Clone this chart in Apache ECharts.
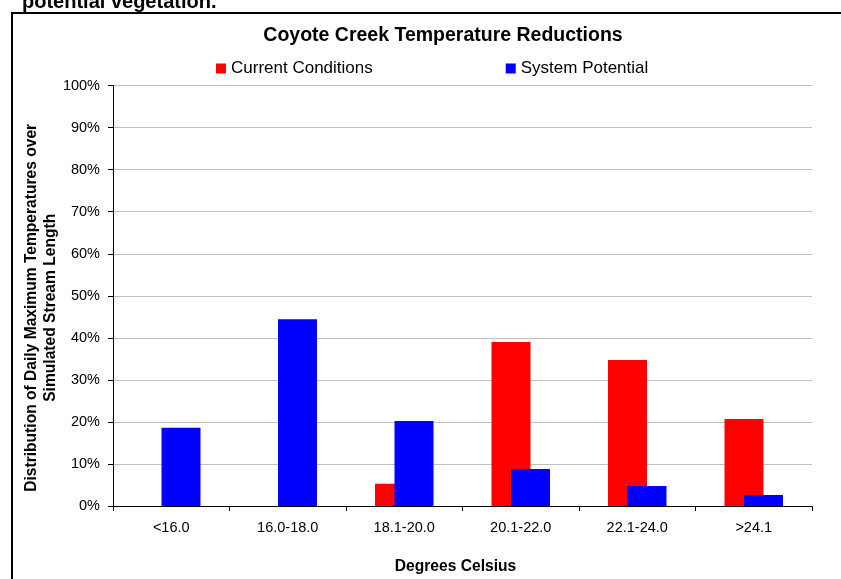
<!DOCTYPE html>
<html>
<head>
<meta charset="utf-8">
<script src="https://cdn.jsdelivr.net/npm/echarts@6/dist/echarts.min.js"></script>
<style>
  html, body { margin: 0; padding: 0; background: #fff; }
  #chart { width: 841px; height: 579px; }
</style>
</head>
<body>
<div id="chart"></div>
<script>
const categories = ['<16.0', '16.0-18.0', '18.1-20.0', '20.1-22.0', '22.1-24.0', '>24.1']
const currentConditions = [0, 0, 5.3, 39.0, 34.7, 20.7]
const systemPotential = [18.6, 44.4, 20.2, 8.8, 4.75, 2.6]

const FONT = 'Liberation Sans, Arial, sans-serif'

const chart = echarts.init(document.getElementById('chart'))

const option = {
  animation: false,
  textStyle: { fontFamily: FONT, color: '#000' },
  graphic: [
    // caption text cut off at the top of the page
    {
      type: 'text',
      x: 22,
      y: 2.5,
      style: {
        text: 'potential vegetation.',
        font: 'bold 20px ' + FONT,
        fill: '#000',
        verticalAlign: 'middle'
      }
    },
    // frame around the chart
    {
      type: 'polyline',
      shape: { points: [[12, 579], [12, 13], [841, 13]] },
      style: { stroke: '#000', lineWidth: 2, fill: null }
    },
    {
      type: 'text',
      x: 443,
      y: 36,
      style: {
        text: 'Coyote Creek Temperature Reductions',
        font: 'bold 19.5px ' + FONT,
        fill: '#000',
        align: 'center',
        verticalAlign: 'middle'
      }
    }
  ],
  legend: {
    left: 211,
    top: 55,
    itemWidth: 10,
    itemHeight: 10,
    itemGap: 133,
    icon: 'rect',
    textStyle: { fontSize: 17, color: '#000', fontFamily: FONT },
    data: ['Current Conditions', 'System Potential']
  },
  grid: {
    left: 113,
    right: 29,
    top: 85.6,
    bottom: 73,
    containLabel: false,
    outerBoundsMode: 'none'
  },
  xAxis: {
    type: 'category',
    data: categories,
    name: 'Degrees Celsius',
    nameLocation: 'middle',
    nameGap: 53,
    nameMoveOverlap: false,
    nameTextStyle: { fontSize: 15.6, fontWeight: 'bold', color: '#000', padding: [0, 14, 0, 0] },
    axisLine: { lineStyle: { color: '#000', width: 1 } },
    axisTick: { show: true, length: 5, lineStyle: { color: '#000' } },
    axisLabel: { fontSize: 14.5, color: '#000', margin: 14 },
    splitLine: { show: false }
  },
  yAxis: {
    type: 'value',
    min: 0,
    max: 100,
    interval: 10,
    name: 'Distribution of Daily Maximum Temperatures over\nSimulated Stream Length',
    nameLocation: 'middle',
    nameRotate: 90,
    nameGap: 53,
    nameMoveOverlap: false,
    nameTextStyle: {
      fontSize: 15.6,
      fontWeight: 'bold',
      color: '#000',
      lineHeight: 19,
      padding: [0, 24, 0, 0]
    },
    axisLine: { show: true, lineStyle: { color: '#000', width: 1 } },
    axisTick: { show: true, length: 5, lineStyle: { color: '#000' } },
    axisLabel: { fontSize: 14.5, color: '#000', margin: 13, formatter: '{value}%' },
    splitLine: { show: true, lineStyle: { color: '#c0c0c0', width: 1 } }
  },
  series: [
    {
      name: 'Current Conditions',
      type: 'bar',
      data: currentConditions,
      barWidth: 39,
      barGap: '-50%',
      itemStyle: { color: '#ff0000' }
    },
    {
      name: 'System Potential',
      type: 'bar',
      data: systemPotential,
      barWidth: 39,
      itemStyle: { color: '#0000ff' }
    }
  ]
}

chart.setOption(option)
</script>
</body>
</html>
